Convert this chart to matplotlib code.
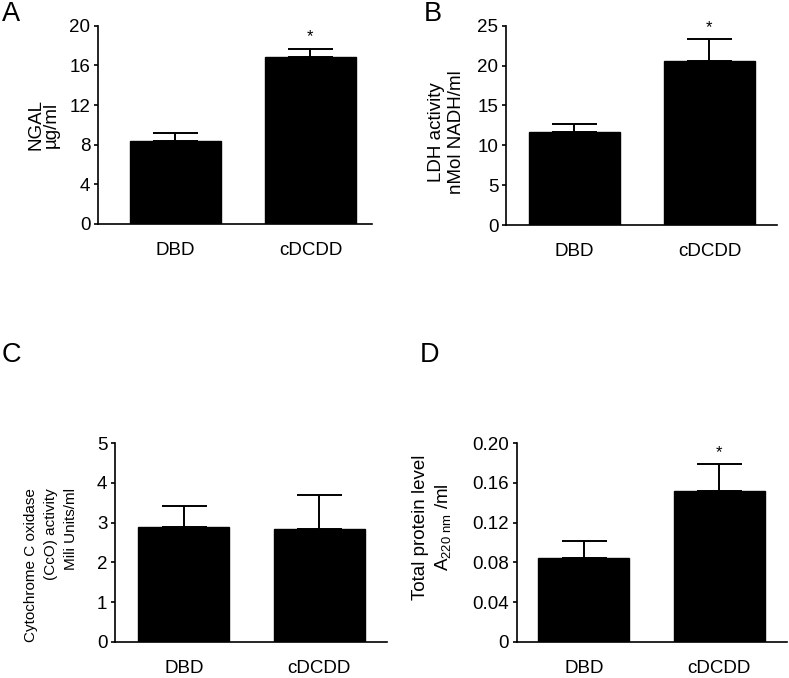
import matplotlib
matplotlib.use("Agg")
import matplotlib.pyplot as plt
from matplotlib.ticker import FixedLocator, FixedFormatter

plt.rcParams['font.family'] = ['Liberation Sans', 'DejaVu Sans']
plt.rcParams['mathtext.fontset'] = 'custom'
plt.rcParams['mathtext.rm'] = 'Liberation Sans'
plt.rcParams['mathtext.it'] = 'Liberation Sans'
plt.rcParams['mathtext.default'] = 'regular'

categories = ["DBD", "cDCDD"]

ngal_mean = [8.4, 16.8]
ngal_err = [0.75, 0.9]
ngal_sig = [False, True]
ngal_ticks = [0, 4, 8, 12, 16, 20]
ngal_ticklabels = ["0", "4", "8", "12", "16", "20"]

ldh_mean = [11.65, 20.6]
ldh_err = [1.0, 2.75]
ldh_sig = [False, True]
ldh_ticks = [0, 5, 10, 15, 20, 25]
ldh_ticklabels = ["0", "5", "10", "15", "20", "25"]

cco_mean = [2.88, 2.83]
cco_err = [0.55, 0.87]
cco_sig = [False, False]
cco_ticks = [0, 1, 2, 3, 4, 5]
cco_ticklabels = ["0", "1", "2", "3", "4", "5"]

prot_mean = [0.0847, 0.152]
prot_err = [0.0165, 0.027]
prot_sig = [False, True]
prot_ticks = [0, 0.04, 0.08, 0.12, 0.16, 0.20]
prot_ticklabels = ["0", "0.04", "0.08", "0.12", "0.16", "0.20"]

W, H = 789, 678
fig = plt.figure(figsize=(W / 100, H / 100), dpi=100)

FS = 13.5


def make_axes(left, right, top, bottom):
    return fig.add_axes([left / W, 1 - bottom / H, (right - left) / W, (bottom - top) / H])


panels = [
    dict(box=(98, 372, 25.7, 224), xlim=(-0.574, 1.456), mean=ngal_mean, err=ngal_err, sig=ngal_sig,
         ticks=ngal_ticks, labels=ngal_ticklabels, ylabel="NGAL\nµg/ml", lab_x=-38, lab_y=0.50,
         ls=0.85, align='center', lsize=FS, letter="A", lpos=(2, 1)),
    dict(box=(506, 776.7, 25.7, 225), xlim=(-0.504, 1.497), mean=ldh_mean, err=ldh_err, sig=ldh_sig,
         ticks=ldh_ticks, labels=ldh_ticklabels, ylabel="LDH activity\nnMol NADH/ml", lab_x=-41, lab_y=0.468,
         ls=1.2, align='center', lsize=FS, letter="B", lpos=(424, 1)),
    dict(box=(115, 386.7, 443.3, 641.7), xlim=(-0.51, 1.50), mean=cco_mean, err=cco_err, sig=cco_sig,
         ticks=cco_ticks, labels=cco_ticklabels,
         ylabel="Cytochrome C oxidase\n(CcO) activity\nMili Units/ml", lab_x=-36.7, lab_y=0.387,
         ls=1.58, align='right', lsize=11, letter="C", lpos=(2, 342)),
    dict(box=(516.7, 786.7, 443.3, 641.7), xlim=(-0.497, 1.50), mean=prot_mean, err=prot_err, sig=prot_sig,
         ticks=prot_ticks, labels=prot_ticklabels,
         ylabel="Total protein level\nA$_{220\\ nm}$ /ml", lab_x=-63.7, lab_y=0.576,
         ls=1.25, align='center', lsize=FS, letter="D", lpos=(420, 342)),
]

for p in panels:
    left, right, top, bottom = p["box"]
    ax = make_axes(left, right, top, bottom)
    x = list(range(len(categories)))
    ax.errorbar(x, p["mean"], yerr=[[0] * len(x), p["err"]], fmt='none', ecolor='black',
                elinewidth=1.4, capsize=16.2, capthick=1.4, zorder=1)
    ax.bar(x, p["mean"], width=0.674, color='black', edgecolor='black', zorder=2)
    for xi, m, e, s in zip(x, p["mean"], p["err"], p["sig"]):
        if s:
            ax.annotate("*", (xi, m + e), xytext=(0, 3), textcoords='offset points',
                        ha='center', va='bottom', fontsize=12)
    ax.set_xlim(*p["xlim"])
    ax.set_ylim(p["ticks"][0], p["ticks"][-1])
    ax.yaxis.set_major_locator(FixedLocator(p["ticks"]))
    ax.yaxis.set_major_formatter(FixedFormatter(p["labels"]))
    ax.set_xticks(x)
    ax.set_xticklabels(categories)
    for s in ("top", "right"):
        ax.spines[s].set_visible(False)
    for s in ("left", "bottom"):
        ax.spines[s].set_linewidth(1.2)
    ax.tick_params(axis='y', direction='out', length=3, width=1.2, pad=2.5, labelsize=FS)
    ax.tick_params(axis='x', length=0, pad=13, labelsize=FS)
    ax.set_ylabel(p["ylabel"], linespacing=p["ls"], multialignment=p["align"], fontsize=p["lsize"])
    ax.yaxis.set_label_coords(p["lab_x"] / (right - left), p["lab_y"])
    fig.text(p["lpos"][0] / W, 1 - p["lpos"][1] / H, p["letter"], fontsize=19.5, ha='left', va='top')

fig.savefig("out.png", dpi=100)
